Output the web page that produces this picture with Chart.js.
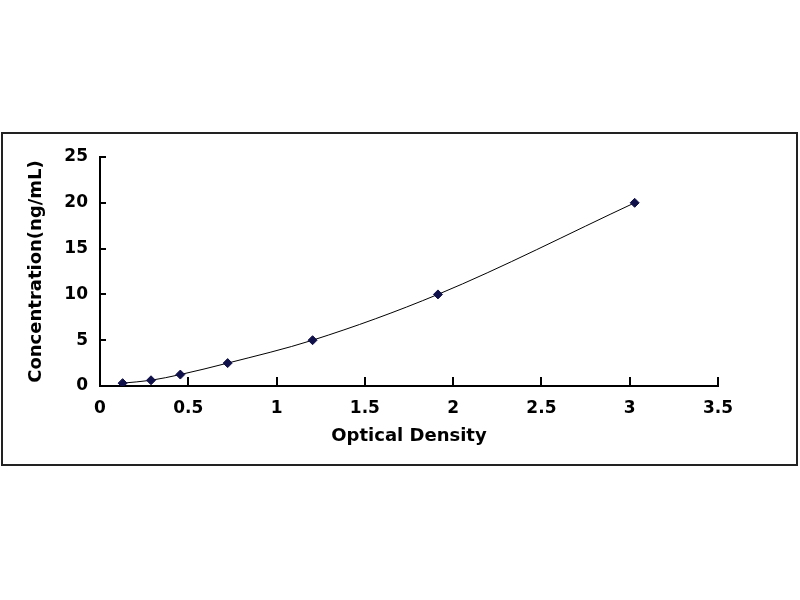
<!DOCTYPE html>
<html>
<head>
<meta charset="utf-8">
<script src="https://cdn.jsdelivr.net/npm/chart.js@4.4.0/dist/chart.umd.min.js"></script>
<style>
    html, body { margin: 0; padding: 0; background: #fff; }
    canvas { display: block; }
</style>
</head>
<body>
<canvas id="curveChart" width="800" height="600"></canvas>
<script>
// standard curve readings
const opticalDensity = [0.128, 0.289, 0.455, 0.723, 1.204, 1.914, 3.028];
const concentration = [0.3125, 0.625, 1.25, 2.5, 5, 10, 20];
const xTicks = [0, 0.5, 1, 1.5, 2, 2.5, 3, 3.5];
const yTicks = [0, 5, 10, 15, 20, 25];

const points = opticalDensity.map((od, i) => ({ x: od, y: concentration[i] }));

const labelFont = { family: 'DejaVu Sans', weight: 'bold', size: 17 };
const titleFont = { family: 'DejaVu Sans', weight: 'bold', size: 18 };

// outer frame round the whole chart
const framePlugin = {
    id: 'frame',
    beforeDraw(chart) {
        const ctx = chart.ctx;
        ctx.save();
        ctx.strokeStyle = '#222';
        ctx.lineWidth = 2;
        ctx.strokeRect(2, 133, 795, 332);
        ctx.restore();
    }
};

// tick marks point into the plot area
const innerTicks = {
    id: 'innerTicks',
    afterDraw(chart) {
        const ctx = chart.ctx;
        const x = chart.scales.x, y = chart.scales.y;
        ctx.save();
        ctx.strokeStyle = '#000';
        ctx.lineWidth = 2;
        ctx.beginPath();
        xTicks.forEach(v => {
            const px = Math.round(x.getPixelForValue(v));
            ctx.moveTo(px, y.bottom);
            ctx.lineTo(px, y.bottom - 9);
        });
        yTicks.forEach(v => {
            const py = Math.round(y.getPixelForValue(v));
            ctx.moveTo(x.left, py);
            ctx.lineTo(x.left + 6, py);
        });
        ctx.stroke();
        ctx.restore();
    }
};

const ctx = document.getElementById('curveChart').getContext('2d');
const chart = new Chart(ctx, {
    type: 'line',
    data: {
        datasets: [{
            data: points,
            borderColor: '#000',
            borderWidth: 1,
            cubicInterpolationMode: 'monotone',
            pointStyle: 'rectRot',
            pointRadius: 4.5,
            pointBackgroundColor: '#10104a',
            pointBorderColor: '#10104a',
            fill: false
        }]
    },
    options: {
        responsive: false,
        animation: false,
        layout: { padding: { left: 0, top: 157, right: 82, bottom: 153 } },
        plugins: {
            legend: { display: false },
            tooltip: { enabled: false }
        },
        scales: {
            x: {
                type: 'linear',
                min: 0,
                max: 3.5,
                afterBuildTicks(scale) { scale.ticks = xTicks.map(v => ({ value: v })); },
                afterFit(scale) { scale.height = 61; },
                grid: { display: false, drawTicks: false },
                border: { display: true, color: '#000', width: 2 },
                ticks: { color: '#000', font: labelFont, padding: 12, callback: v => String(v) },
                title: {
                    display: true,
                    text: 'Optical Density',
                    color: '#000',
                    font: titleFont,
                    padding: { top: 0, bottom: 0 }
                }
            },
            y: {
                type: 'linear',
                min: 0,
                max: 25,
                afterBuildTicks(scale) { scale.ticks = yTicks.map(v => ({ value: v })); },
                afterFit(scale) { scale.width = 100; },
                grid: { display: false, drawTicks: false },
                border: { display: true, color: '#000', width: 2 },
                ticks: { color: '#000', font: labelFont, padding: 12, callback: v => String(v) },
                title: {
                    display: true,
                    text: 'Concentration(ng/mL)',
                    color: '#000',
                    font: titleFont,
                    padding: { top: 26, bottom: 0 }
                }
            }
        }
    },
    plugins: [framePlugin, innerTicks]
});
</script>
</body>
</html>
